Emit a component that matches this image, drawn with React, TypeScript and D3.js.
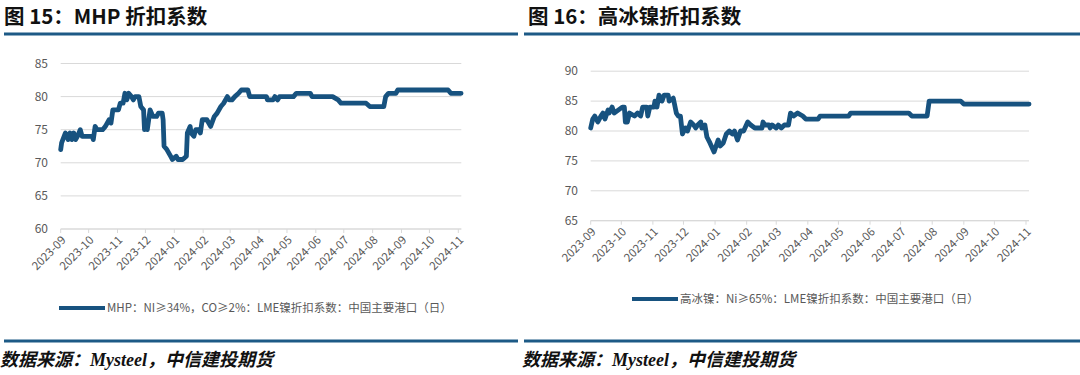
import React from "react";
import * as d3 from "d3";

// ---------- data ----------
const monthTicks = [
  "2023-09", "2023-10", "2023-11", "2023-12", "2024-01", "2024-02", "2024-03", "2024-04",
  "2024-05", "2024-06", "2024-07", "2024-08", "2024-09", "2024-10", "2024-11",
];

const mhpTicks = [60, 65, 70, 75, 80, 85];
const nickelTicks = [65, 70, 75, 80, 85, 90];

const mhpDates = [
  "2023-09-01", "2023-09-02", "2023-09-06", "2023-09-09", "2023-09-11", "2023-09-13", "2023-09-15",
  "2023-09-17", "2023-09-19", "2023-09-22", "2023-09-24", "2023-10-05", "2023-10-06", "2023-10-08",
  "2023-10-10", "2023-10-16", "2023-10-19", "2023-10-23", "2023-10-25", "2023-10-27", "2023-11-02",
  "2023-11-04", "2023-11-07", "2023-11-09", "2023-11-11", "2023-11-13", "2023-11-16", "2023-11-18",
  "2023-11-20", "2023-11-24", "2023-11-26", "2023-11-29", "2023-11-30", "2023-12-02", "2023-12-03",
  "2023-12-06", "2023-12-09", "2023-12-13", "2023-12-15", "2023-12-19", "2023-12-20", "2023-12-21",
  "2023-12-24", "2023-12-28", "2023-12-30", "2024-01-03", "2024-01-05", "2024-01-10", "2024-01-14",
  "2024-01-15", "2024-01-18", "2024-01-19", "2024-01-22", "2024-01-24", "2024-01-27", "2024-01-29",
  "2024-01-31", "2024-02-05", "2024-02-09", "2024-02-13", "2024-02-16", "2024-02-20", "2024-02-23",
  "2024-02-27", "2024-02-29", "2024-03-03", "2024-03-06", "2024-03-10", "2024-03-13", "2024-03-20",
  "2024-03-22", "2024-04-09", "2024-04-10", "2024-04-16", "2024-04-18", "2024-04-21", "2024-04-23",
  "2024-05-08", "2024-05-11", "2024-05-26", "2024-05-28", "2024-06-19", "2024-06-25", "2024-06-28",
  "2024-07-25", "2024-07-29", "2024-08-13", "2024-08-15", "2024-08-18", "2024-08-26", "2024-08-28",
  "2024-10-21", "2024-10-24", "2024-11-04",
];
const mhpValues = [
  72, 73, 74.5, 73.5, 74.5, 73.5, 74.5,
  73.5, 74, 75, 74, 74, 73.5, 75.5,
  75, 75, 75.5, 76.5, 76, 78, 78,
  79, 79, 80.5, 79.5, 80.5, 80, 79.5,
  80, 80, 78.5, 78, 75, 76, 75,
  78, 77, 77, 77.5, 77.5, 76.5, 72.5,
  72, 71, 70.5, 71, 70.5, 70.5, 71,
  74.5, 75.5, 74.5, 74, 75, 75, 74.5,
  76.5, 76.5, 75.5, 77, 77.5, 78.5, 79,
  80, 79.5, 79.5, 80, 80.5, 81, 81,
  80, 80, 79.5, 79.5, 80, 79.5, 80,
  80, 80.5, 80.5, 80, 80, 79.5, 79,
  79, 78.5, 78.5, 80, 80.5, 80.5, 81,
  81, 80.5, 80.5,
];

const nickelDates = [
  "2023-09-01", "2023-09-03", "2023-09-05", "2023-09-08", "2023-09-11", "2023-09-13", "2023-09-15",
  "2023-09-18", "2023-09-19", "2023-09-22", "2023-09-24", "2023-09-28", "2023-10-02", "2023-10-04",
  "2023-10-05", "2023-10-07", "2023-10-09", "2023-10-14", "2023-10-17", "2023-10-20", "2023-10-22",
  "2023-10-26", "2023-10-27", "2023-10-29", "2023-11-02", "2023-11-03", "2023-11-05", "2023-11-07",
  "2023-11-10", "2023-11-12", "2023-11-16", "2023-11-17", "2023-11-21", "2023-11-24", "2023-11-26",
  "2023-11-28", "2023-11-30", "2023-12-03", "2023-12-05", "2023-12-08", "2023-12-11", "2023-12-13",
  "2023-12-15", "2023-12-18", "2023-12-19", "2023-12-22", "2023-12-24", "2023-12-27", "2023-12-31",
  "2024-01-02", "2024-01-04", "2024-01-06", "2024-01-09", "2024-01-12", "2024-01-15", "2024-01-18",
  "2024-01-20", "2024-01-23", "2024-01-26", "2024-01-29", "2024-02-02", "2024-02-05", "2024-02-09",
  "2024-02-16", "2024-02-17", "2024-02-19", "2024-02-23", "2024-02-24", "2024-02-26", "2024-03-01",
  "2024-03-03", "2024-03-06", "2024-03-09", "2024-03-13", "2024-03-15", "2024-03-18", "2024-03-22",
  "2024-03-27", "2024-03-30", "2024-04-11", "2024-04-13", "2024-05-11", "2024-05-13", "2024-07-09",
  "2024-07-12", "2024-07-27", "2024-07-29", "2024-08-29", "2024-09-01", "2024-11-04",
];
const nickelValues = [
  80.5, 82, 82.5, 81.5, 82.5, 83, 82,
  83.5, 83, 84, 83, 83.5, 84, 84,
  81.5, 81.5, 83, 82.5, 83, 82.5, 84,
  84, 82.5, 84, 84, 85, 84, 86,
  85, 86, 86, 85, 85.5, 83, 82.5,
  82.5, 79.5, 80.5, 80, 81.5, 81, 80.5,
  81, 81.5, 80.5, 81, 79, 78, 76.5,
  77.5, 78.5, 77.5, 78, 79.5, 80, 79.5,
  80, 78.5, 80, 80, 81.5, 81, 80.5,
  80.5, 81.5, 81, 81, 80.5, 81, 80.5,
  81, 80.5, 81, 81, 83, 82.5, 83,
  82.5, 82, 82, 82.5, 82.5, 83, 83,
  82.5, 82.5, 85, 85, 84.5, 84.5,
];

const titles = ["图 15：MHP 折扣系数", "图 16：高冰镍折扣系数"];
const legendLabels = [
  "MHP：NI≥34%，CO≥2%：LME镍折扣系数：中国主要港口（日）",
  "高冰镍：Ni≥65%：LME镍折扣系数：中国主要港口（日）",
];
const sourceText = "数据来源：Mysteel，中信建投期货";

// ---------- styles ----------
const LINE = "#17527f";
const RULE = "#1d5a86";
const GRID = "#d9d9d9";
const TXT = "#595959";
const CJK = "'Noto Sans CJK SC', 'Noto Sans', sans-serif";

const parse = d3.timeParse("%Y-%m-%d");
const parseM = d3.timeParse("%Y-%m");

type PanelProps = {
  x0: number; x1: number; yTop: number; yBot: number;
  ticks: number[]; dates: string[]; values: number[];
  legendX: number; legendY: number; legend: string; labelX: number;
};

function Panel(p: PanelProps) {
  const tickDates = monthTicks.map((m) => parseM(m) as Date);
  const x = d3.scaleTime().domain([tickDates[0], tickDates[tickDates.length - 1]]).range([p.x0, p.x1]);
  const y = d3.scaleLinear().domain([p.ticks[0], p.ticks[p.ticks.length - 1]]).range([p.yBot, p.yTop]);
  const pts = p.dates.map((d, i) => ({ d: parse(d) as Date, v: p.values[i] }));
  const line = d3.line<{ d: Date; v: number }>().x((q) => x(q.d)).y((q) => y(q.v)).curve(d3.curveLinear);
  const gridEnd = p.x1 + 3;
  return (
    <g>
      {p.ticks.map((t) => (
        <g key={t}>
          <line x1={p.x0} x2={gridEnd} y1={y(t)} y2={y(t)} stroke={GRID} strokeWidth={1} />
          <text x={p.labelX} y={y(t)} dy="0.35em" textAnchor="end" fontSize={12} fill={TXT} fontFamily={CJK}>{t}</text>
        </g>
      ))}
      <line x1={p.x0} x2={gridEnd} y1={p.yBot} y2={p.yBot} stroke={GRID} strokeWidth={1.2} />
      {tickDates.map((d, i) => (
        <g key={i} transform={`translate(${x(d)},${p.yBot})`}>
          <line y1={0} y2={4} stroke={GRID} strokeWidth={1} />
          <text transform="translate(3,9) rotate(-45)" textAnchor="end" fontSize={11.5} fill={TXT} fontFamily={CJK} dy="0.35em">
            {monthTicks[i]}
          </text>
        </g>
      ))}
      <path d={line(pts) || ""} fill="none" stroke={LINE} strokeWidth={4.8} strokeLinejoin="round" strokeLinecap="round" />
      <line x1={p.legendX} x2={p.legendX + 46} y1={p.legendY} y2={p.legendY} stroke={LINE} strokeWidth={4} />
      <text x={p.legendX + 48} y={p.legendY} dy="0.35em" fontSize={11.5} fill={TXT} fontFamily={CJK}>{p.legend}</text>
    </g>
  );
}

export default function App() {
  return (
    <svg width={1080} height={375} style={{ position: "absolute", left: 0, top: 0, background: "#fff" }}>
      <rect width={1080} height={375} fill="#fff" />
      <text x={4} y={24} fontSize={20.5} fontWeight="bold" fontFamily={CJK} fill="#111">{titles[0]}</text>
      <text x={528} y={24} fontSize={20.5} fontWeight="bold" fontFamily={CJK} fill="#111">{titles[1]}</text>
      <line x1={4} x2={518} y1={34} y2={34} stroke={RULE} strokeWidth={3} />
      <line x1={524} x2={1080} y1={34} y2={34} stroke={RULE} strokeWidth={3} />

      <Panel x0={60.7} x1={458.3} yTop={63.5} yBot={229} ticks={mhpTicks} dates={mhpDates} values={mhpValues}
        legendX={59} legendY={308} legend={legendLabels[0]} labelX={48} />
      <Panel x0={590.7} x1={1026} yTop={71.2} yBot={220.7} ticks={nickelTicks} dates={nickelDates} values={nickelValues}
        legendX={632} legendY={299} legend={legendLabels[1]} labelX={578} />

      <line x1={4} x2={518} y1={341} y2={341} stroke={RULE} strokeWidth={3} />
      <line x1={524} x2={1080} y1={341} y2={341} stroke={RULE} strokeWidth={3} />
      <text x={0} y={366} fontSize={18} fontWeight="bold" fontStyle="italic" fontFamily="'Liberation Serif', 'Noto Sans CJK SC', serif" fill="#111">{sourceText}</text>
      <text x={522} y={366} fontSize={18} fontWeight="bold" fontStyle="italic" fontFamily="'Liberation Serif', 'Noto Sans CJK SC', serif" fill="#111">{sourceText}</text>
    </svg>
  );
}
